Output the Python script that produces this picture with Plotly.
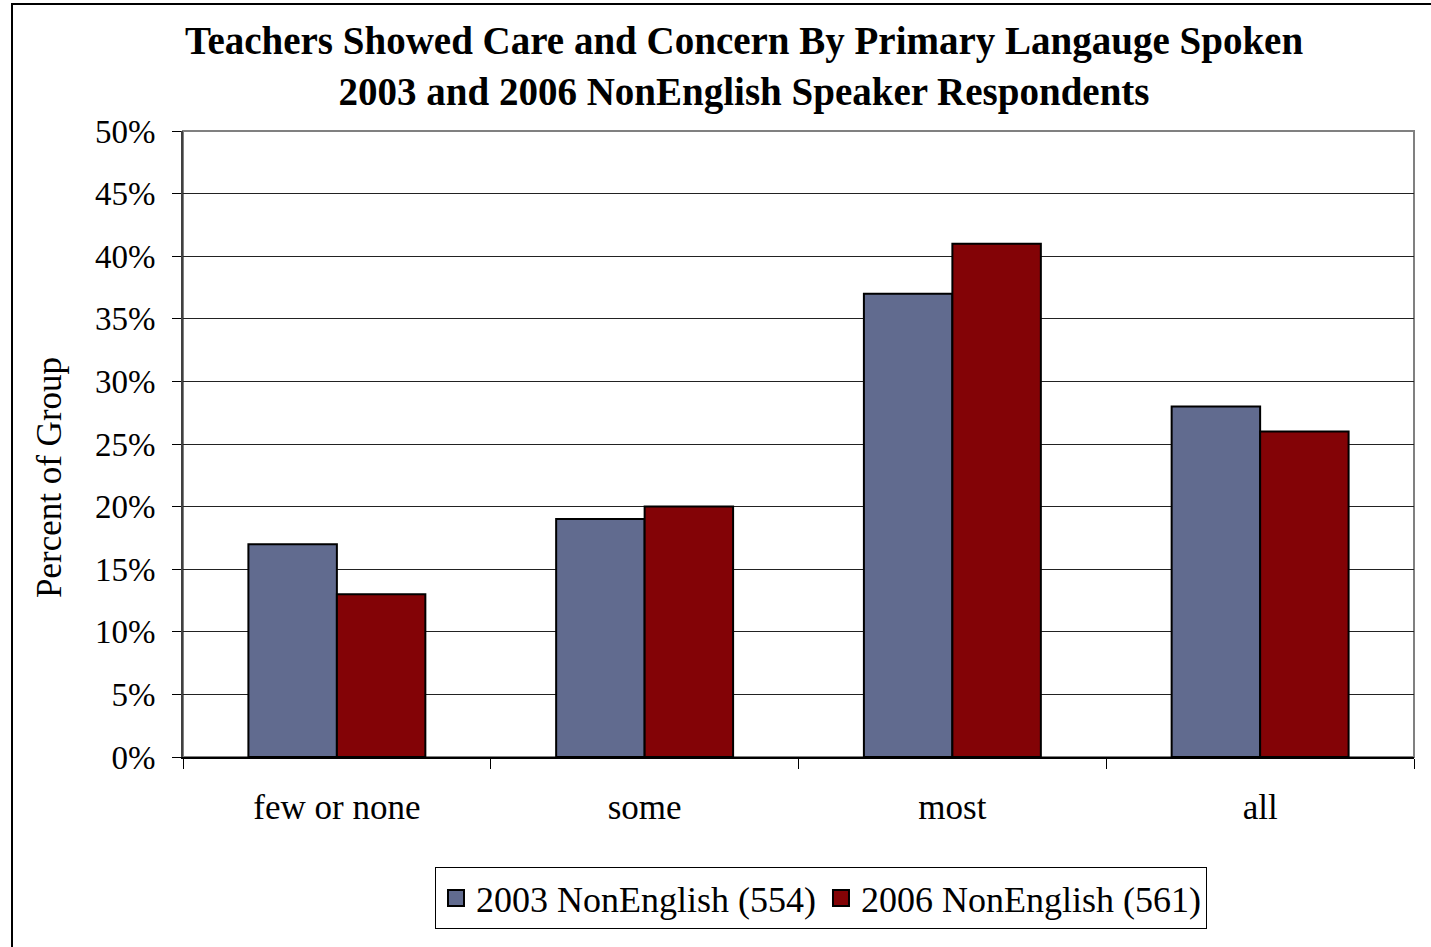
import plotly.graph_objects as go

categories = ["few or none", "some", "most", "all"]
series_2003 = [17, 19, 37, 28]
series_2006 = [13, 20, 41, 26]
name_2003 = "2003 NonEnglish (554)"
name_2006 = "2006 NonEnglish (561)"
color_2003 = "#616B8F"
color_2006 = "#830306"
y_ticks = [0, 5, 10, 15, 20, 25, 30, 35, 40, 45, 50]
y_tick_labels = [f"{v}%" for v in y_ticks]

W, H = 1431, 947
L, R, T, B = 183, 17, 131, 190
pw, ph = W - L - R, H - T - B

FONT = "Liberation Serif"

fig = go.Figure()
fig.add_bar(x=categories, y=series_2003, name=name_2003, showlegend=False,
            marker=dict(color=color_2003, line=dict(color="black", width=2)))
fig.add_bar(x=categories, y=series_2006, name=name_2006, showlegend=False,
            marker=dict(color=color_2006, line=dict(color="black", width=2)))
# legend entries with larger square swatches
for nm, col in [(name_2003, color_2003), (name_2006, color_2006)]:
    fig.add_scatter(x=[None], y=[None], mode="markers", name=nm,
                    marker=dict(symbol="square", size=19, color=col,
                                line=dict(color="black", width=2)))

fig.update_layout(
    width=W, height=H,
    margin=dict(l=L, r=R, t=T, b=B, autoexpand=False),
    paper_bgcolor="white", plot_bgcolor="white",
    barmode="group", bargap=0.425, bargroupgap=0,
    font=dict(family=FONT, color="black", size=33),
    showlegend=True,
    legend=dict(orientation="h", xanchor="center", yanchor="top",
                x=(821 - L) / pw, y=(T + ph - 867) / ph,
                bordercolor="black", borderwidth=1,
                font=dict(size=36, family=FONT), itemwidth=30,
                traceorder="normal", tracegroupgap=0),
    annotations=[
        dict(text="<b>Teachers Showed Care and Concern By Primary Langauge Spoken</b><br><b>2003 and 2006 NonEnglish Speaker Respondents</b>",
             xref="paper", yref="paper", x=(744 - L) / pw, y=(T + ph - 17) / ph,
             xanchor="center", yanchor="top", showarrow=False,
             font=dict(size=39, family=FONT), align="center"),
        dict(text="Percent of Group", textangle=-90,
             xref="paper", yref="paper", x=(50 - L) / pw, y=(T + ph - 478) / ph,
             xanchor="center", yanchor="middle", showarrow=False,
             font=dict(size=35, family=FONT)),
    ],
    shapes=[
        dict(type="rect", xref="paper", yref="paper", x0=0, x1=1, y0=0, y1=1,
             line=dict(color="#808080", width=2), layer="below"),
        dict(type="rect", xref="paper", yref="paper",
             x0=(12 - L) / pw, x1=(W + 20 - L) / pw,
             y0=(T + ph - (H + 20)) / ph, y1=(T + ph - 4) / ph,
             line=dict(color="black", width=2)),
    ],
)

fig.update_xaxes(
    showline=True, linecolor="black", linewidth=2,
    ticks="outside", tickson="boundaries", ticklen=10, tickcolor="black", tickwidth=1,
    showgrid=False, tickfont=dict(size=35, family=FONT), ticklabelstandoff=18,
)
fig.update_yaxes(
    range=[0, 50], tickvals=y_ticks, ticktext=y_tick_labels,
    showline=True, linecolor="#404040", linewidth=2,
    ticks="outside", ticklen=9, tickcolor="black", tickwidth=1,
    showgrid=True, gridcolor="#222222", gridwidth=1,
    tickfont=dict(size=33, family=FONT), ticklabelstandoff=10,
    zeroline=False,
)

fig.write_html("out.html", config={"displayModeBar": False},
               post_script="document.body.style.margin='0px';")
